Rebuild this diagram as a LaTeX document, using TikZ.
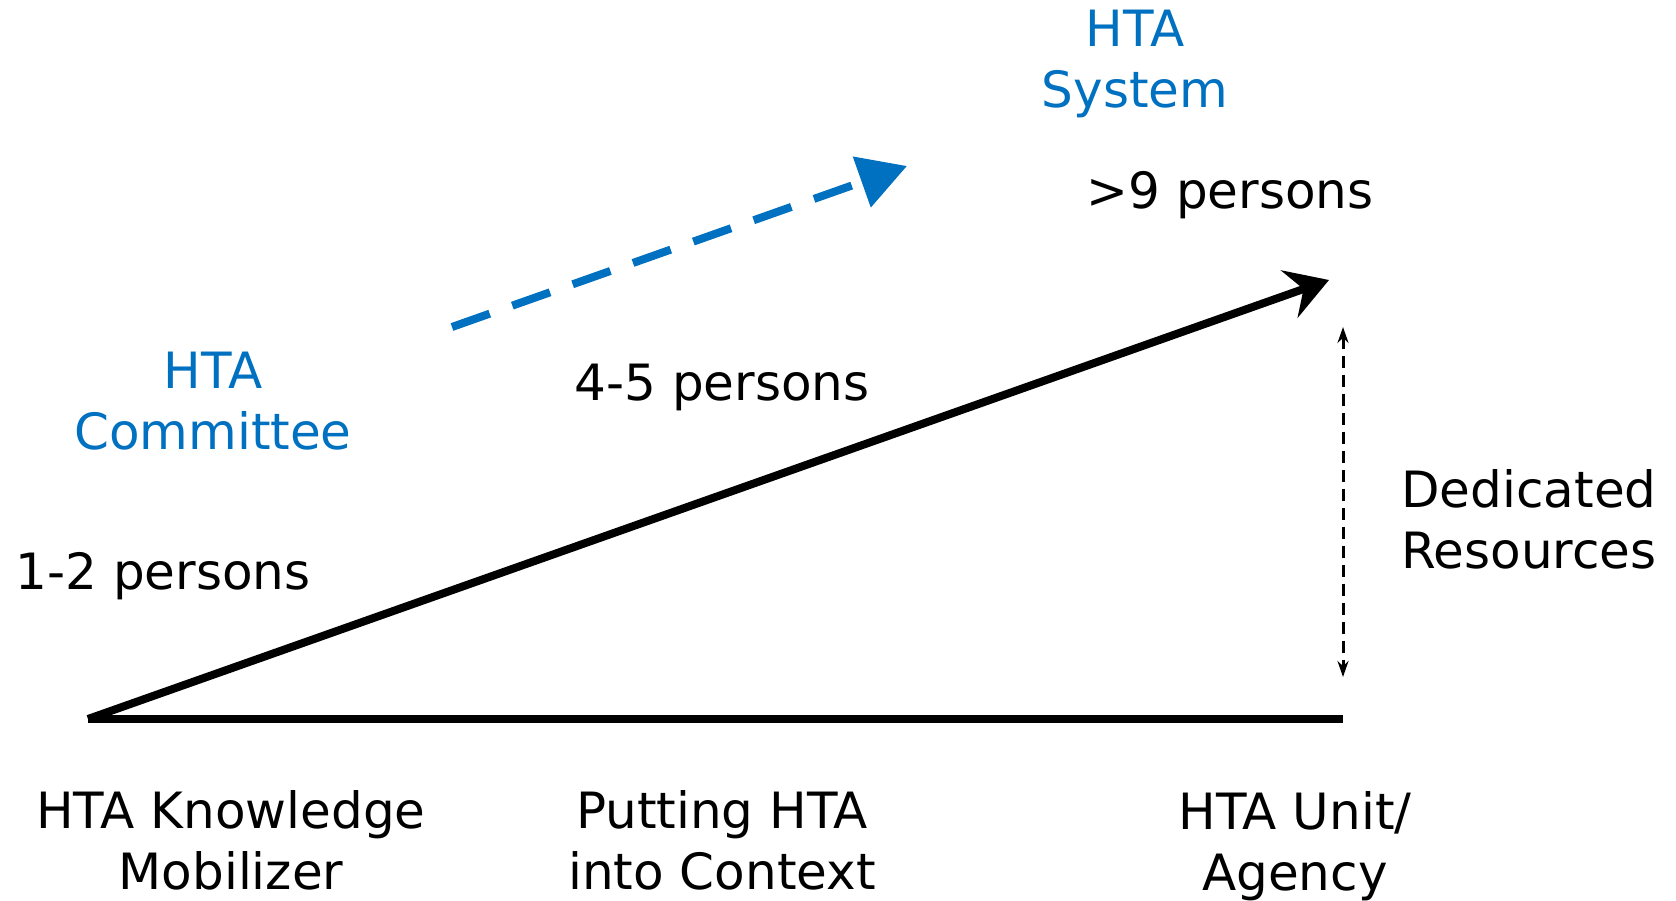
\documentclass[tikz,border=0pt]{standalone}
\usepackage{fontspec}
\setmainfont{DejaVu Sans}
\usetikzlibrary{arrows.meta}
\definecolor{htablue}{HTML}{0070C0}
\begin{document}
\begin{tikzpicture}[x=1pt,y=-1pt,
  lbl/.style={font=\fontsize{50}{61}\selectfont, align=center, inner sep=0pt},
  bluelbl/.style={lbl, text=htablue},
  mainline/.style={line width=8pt, line cap=butt},
  bluearrow/.style={line width=8pt, draw=htablue, dash pattern=on 40pt off 24pt, -{Triangle[length=48pt,width=52pt,fill=htablue]}},
  resarrow/.style={line width=3pt, dash pattern=on 12pt off 7pt, {Stealth[length=16pt,width=11pt]}-{Stealth[length=16pt,width=11pt]}}
]
\useasboundingbox (0,0) rectangle (1676,901);
\coordinate (o) at (88,719);
\coordinate (e) at (1343,719);
\coordinate (t) at (1329,280);
\coordinate (bs) at (452,327);
\coordinate (bt) at (907,166);
\coordinate (rt) at (1343,327);
\coordinate (rb) at (1343,677);
\draw[mainline] (o) -- (e);
\draw[mainline, -{Stealth[length=42pt,width=50pt,inset=15pt]}] (o) -- (t);
\draw[bluearrow] (bs) -- (bt);
\draw[resarrow] (rt) -- (rb);
\node[bluelbl] (sys) at (1135,64) {HTA\\System};
\node[lbl] (p9) at (1230,195) {>9 persons};
\node[bluelbl] (com) at (213,401) {HTA\\Committee};
\node[lbl] (p45) at (722,387) {4-5 persons};
\node[lbl] (p12) at (163,576) {1-2 persons};
\node[lbl] (res) at (1529,519) {Dedicated\\Resources};
\node[lbl] (km) at (231,840) {HTA Knowledge\\Mobilizer};
\node[lbl] (ctx) at (722,840) {Putting HTA\\into Context};
\node[lbl] (unit) at (1295,846) {HTA Unit/\\Agency};
\end{tikzpicture}
\end{document}
